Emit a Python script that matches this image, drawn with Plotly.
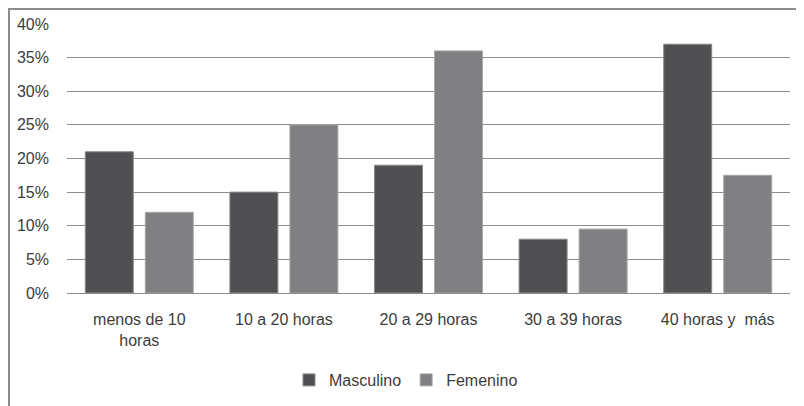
import plotly.graph_objects as go

categories = ["menos de 10<br>horas", "10 a 20 horas", "20 a 29 horas", "30 a 39 horas", "40 horas y  más"]
masculino = [0.21, 0.15, 0.19, 0.08, 0.37]
femenino = [0.12, 0.25, 0.36, 0.095, 0.175]
y_ticks = [0, 0.05, 0.10, 0.15, 0.20, 0.25, 0.30, 0.35, 0.40]
y_tick_labels = ["0%", "5%", "10%", "15%", "20%", "25%", "30%", "35%", "40%"]

FONT = "Liberation Sans, Arial, sans-serif"
TXT = "#3c3c3c"

fig = go.Figure()
fig.add_trace(go.Bar(name="Masculino", x=categories, y=masculino,
                     marker=dict(color="#505052", line=dict(color="#8a8a8c", width=1))))
fig.add_trace(go.Bar(name="Femenino", x=categories, y=femenino,
                     marker=dict(color="#808083", line=dict(color="#a8a8aa", width=1))))

# page body has an 8px margin; figure coordinates = screen - 8
W, H = 796, 398
L, R, T, B = 59, 14, 16, 113
pw, ph = W - L - R, H - T - B

fig.update_layout(
    width=W, height=H,
    margin=dict(l=L, r=R, t=T, b=B, autoexpand=False),
    paper_bgcolor="white", plot_bgcolor="white",
    barmode="group", bargap=0.17, bargroupgap=0.2,
    font=dict(family=FONT, size=16, color=TXT),
    showlegend=True,
    legend=dict(orientation="h", x=(398 - L) / pw, xanchor="center", y=(T + ph - 372) / ph, yanchor="middle",
                font=dict(family=FONT, size=16, color=TXT), itemwidth=30,
                traceorder="normal"),
    xaxis=dict(showgrid=False, showline=True, linecolor="#8c8c8c", linewidth=1,
               ticks="", ticklabelstandoff=12, tickfont=dict(family=FONT, size=16, color=TXT),
               automargin=False, fixedrange=True),
    yaxis=dict(range=[0, 0.40], tickvals=y_ticks, ticktext=y_tick_labels,
               showgrid=True, gridcolor="#8c8c8c", gridwidth=1,
               zeroline=True, zerolinecolor="#8c8c8c", zerolinewidth=1,
               showline=False, ticks="", ticklabelstandoff=17,
               tickfont=dict(family=FONT, size=16, color=TXT),
               automargin=False, fixedrange=True),
    shapes=[
        dict(type="line", xref="paper", yref="paper",
             x0=(0 - L) / pw, x1=(W - L) / pw, y0=1 + (T - 1) / ph, y1=1 + (T - 1) / ph,
             line=dict(color="#8c8c8c", width=2)),
        dict(type="line", xref="paper", yref="paper",
             x0=(1 - L) / pw, x1=(1 - L) / pw, y0=1 + T / ph, y1=-(B) / ph,
             line=dict(color="#8c8c8c", width=2)),
    ],
)

fig.write_html("out.html")
